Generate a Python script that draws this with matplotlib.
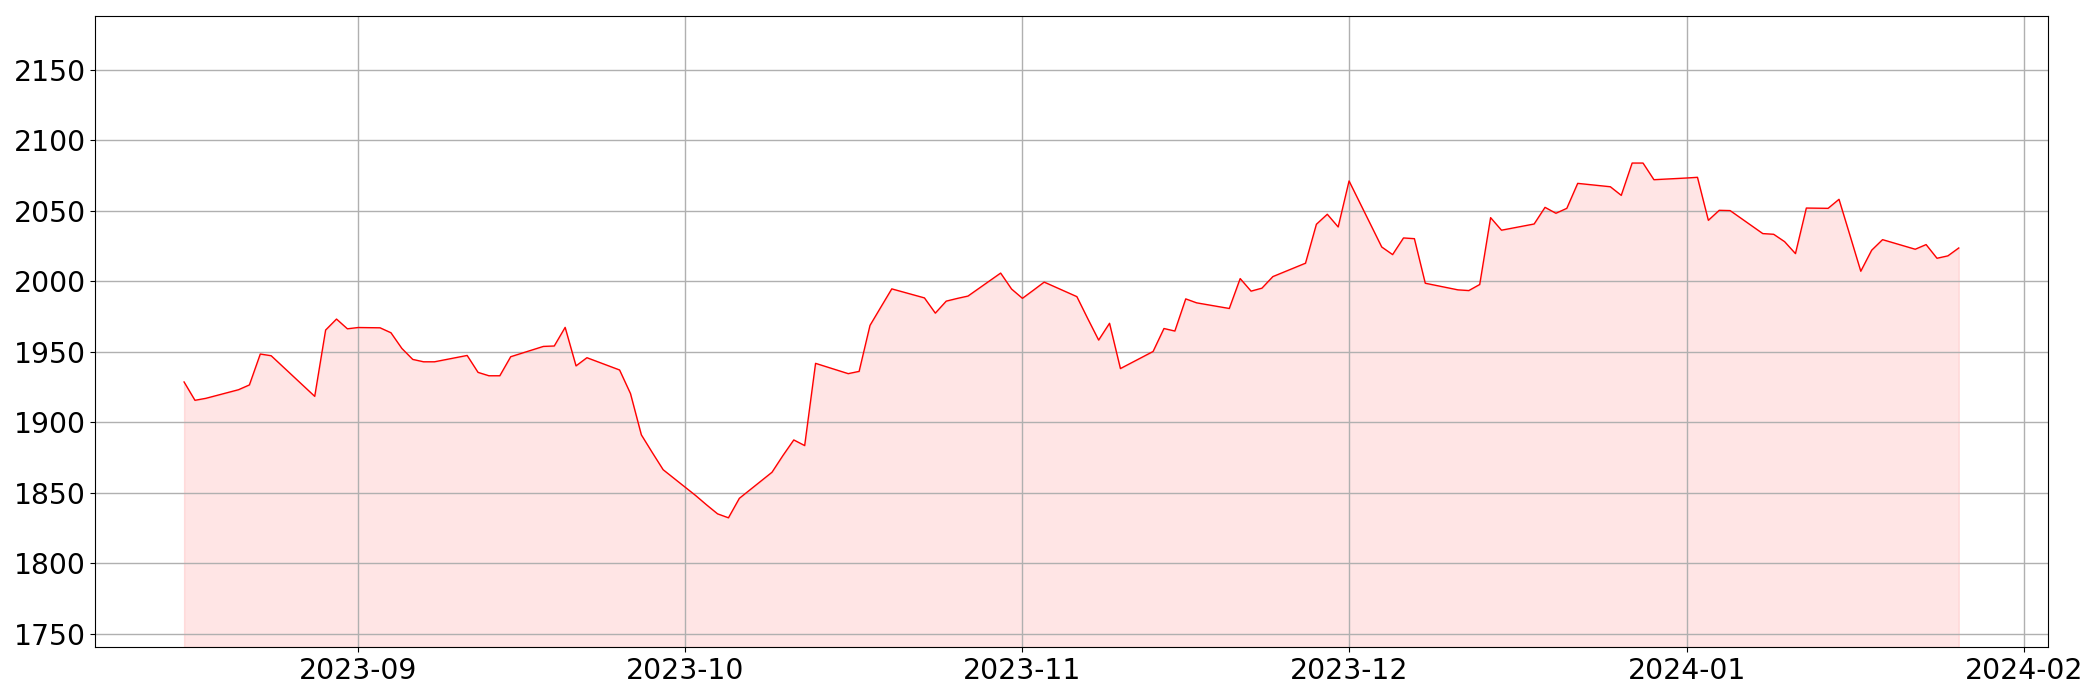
import pandas as pd
import matplotlib.pyplot as plt
from matplotlib.ticker import MultipleLocator

# Dates: business days plus two Sunday rows found in the data
fechas = pd.bdate_range('2023-08-16', '2024-01-26').union(
    pd.to_datetime(['2023-09-03', '2024-01-14']))

ago = [1928.5, 1915.5, 1916.9, 1923.0, 1926.4, 1948.3, 1947.1, 1939.9, 1918.3, 1965.3, 1973.1, 1966.2]
sep = [1967.1, 1966.9, 1963.4, 1952.3, 1944.5, 1942.8, 1942.8, 1947.3, 1935.3, 1932.9, 1932.9,
       1946.4, 1953.7, 1954.0, 1967.2, 1939.9, 1945.7, 1937.0, 1920.3, 1891.0, 1878.5, 1866.3]
oct_ = [1847.9, 1841.3, 1835.0, 1832.2, 1846.0, 1864.5, 1876.3, 1887.4, 1883.4, 1941.7, 1934.4,
        1936.0, 1968.6, 1981.6, 1994.5, 1988.1, 1977.3, 1985.8, 1987.7, 1989.4, 2005.7, 1994.4]
nov = [1987.8, 1993.5, 1999.3, 1989.0, 1973.4, 1958.2, 1970.1, 1938.0, 1950.1, 1966.4, 1964.6,
       1987.4, 1984.6, 1980.6, 2001.8, 1992.9, 1995.0, 2003.2, 2012.7, 2040.3, 2047.4, 2038.4]
dic = [2071.0, 2024.2, 2018.8, 2030.6, 2030.1, 1998.5, 1993.8, 1993.3, 1997.6, 2045.0, 2036.1,
       2040.5, 2052.3, 2048.1, 2051.6, 2069.3, 2066.9, 2060.8, 2083.7, 2083.7, 2071.9]
ene = [2073.1, 2073.6, 2043.1, 2050.2, 2050.0, 2033.7, 2033.2, 2028.0, 2019.5, 2051.8, 2051.6,
       2058.0, 2032.6, 2007.0, 2021.9, 2029.4, 2022.6, 2025.9, 2016.2, 2017.9, 2023.5]

df = pd.DataFrame({'Fecha': fechas, 'Valor': ago + sep + oct_ + nov + dic + ene})

ymin = df['Valor'].min() * 0.95
ymax = df['Valor'].max() * 1.05

fig, ax = plt.subplots(figsize=(21, 7), dpi=100)
ax.plot(df['Fecha'], df['Valor'], color='red', linewidth=1)
ax.fill_between(df['Fecha'], df['Valor'], ymin, color='red', alpha=0.1)
ax.set_ylim(ymin, ymax)
ax.yaxis.set_major_locator(MultipleLocator(50))
ax.grid(True, color='#b0b0b0', linewidth=1)
ax.tick_params(labelsize=20.3)

plt.subplots_adjust(left=0.0454, right=0.975, bottom=0.0757, top=0.977)
plt.savefig('out.png')
